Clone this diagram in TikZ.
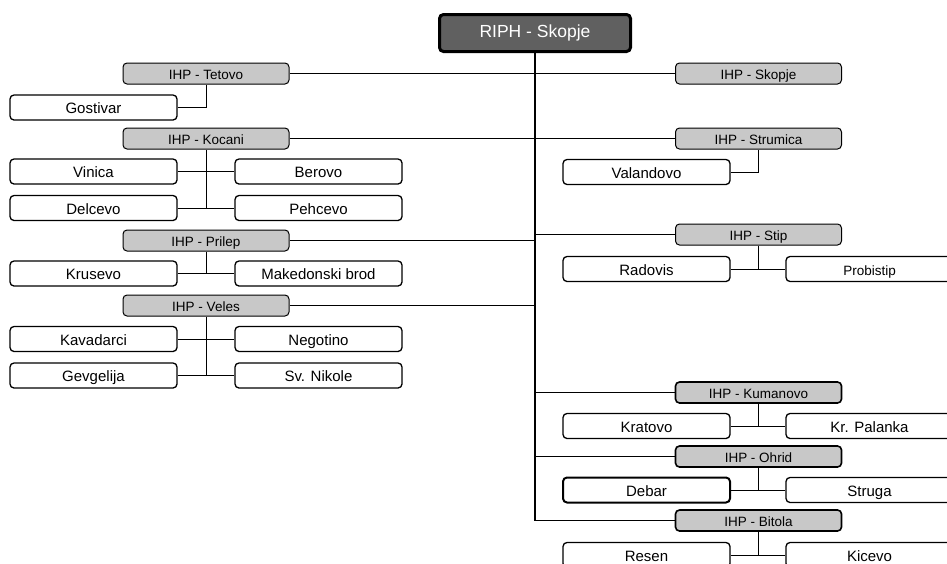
\documentclass[tikz,border=0pt]{standalone}
\usepackage{fontspec}
\setmainfont{Liberation Sans}
\usepackage{tikz}
\usepackage{xcolor}
\usetikzlibrary{positioning, calc}

\definecolor{boxgray}{HTML}{C8C8C8}
\definecolor{riphgray}{HTML}{606060}

\tikzset{
  riph/.style={draw, rounded corners=4pt, line width=3pt, fill=riphgray, text=white,
    minimum width=191pt, minimum height=37pt, inner sep=0pt,
    text height=8.5pt, text depth=0pt,
    font=\fontsize{17.5}{20}\selectfont},
  ihp/.style={draw, rounded corners=4pt, line width=1pt, fill=boxgray,
    minimum width=166pt, minimum height=21pt, inner sep=0pt,
    text height=11.7pt, text depth=0pt,
    font=\fontsize{13.5}{16}\selectfont},
  ihpbold/.style={ihp, line width=1.6pt},
  town/.style={draw, rounded corners=4pt, line width=1.3pt, fill=white,
    minimum width=167pt, minimum height=25pt, inner sep=0pt,
    text height=12.8pt, text depth=0pt,
    font=\fontsize{15}{18}\selectfont},
  link/.style={line width=1pt},
  trunk/.style={line width=1.8pt}
}

\begin{document}
\begin{tikzpicture}[x=1pt, y=-1pt]
        \useasboundingbox (0,0) rectangle (947,563);
        \clip (0,0) rectangle (947,563);
        \node[riph] (riph) at (535,33) {RIPH - Skopje};

        \node[ihp] (tetovo) at (206,73.5) {IHP - Tetovo};
        \node[town] (gostivar) at (93.5,107.5) {Gostivar};
        \node[ihp] (kocani) at (206,138.5) {IHP - Kocani};
        \node[town] (vinica) at (93.5,171.5) {Vinica};
        \node[town] (berovo) at (318.5,171.5) {Berovo};
        \node[town] (delcevo) at (93.5,208) {Delcevo};
        \node[town] (pehcevo) at (318.5,208) {Pehcevo};
        \node[ihp] (prilep) at (206,240.5) {IHP - Prilep};
        \node[town] (krusevo) at (93.5,273.5) {Krusevo};
        \node[town] (makbrod) at (318.5,273.5) {Makedonski brod};
        \node[ihp] (veles) at (206,305.5) {IHP - Veles};
        \node[town] (kavadarci) at (93.5,339) {Kavadarci};
        \node[town] (negotino) at (318.5,339) {Negotino};
        \node[town] (gevgelija) at (93.5,375.5) {Gevgelija};
        \node[town] (svnikole) at (318.5,375.5) {Sv. Nikole};

        \node[ihp] (skopje) at (758.5,73.5) {IHP - Skopje};
        \node[ihp] (strumica) at (758.5,138.5) {IHP - Strumica};
        \node[town] (valandovo) at (646.5,172) {Valandovo};
        \node[ihp] (stip) at (758.5,234.5) {IHP - Stip};
        \node[town] (radovis) at (646.5,269) {Radovis};
        \node[town, font=\fontsize{13.5}{16}\selectfont] (probistip) at (869.5,269) {Probistip};
        \node[ihpbold] (kumanovo) at (758.5,392.5) {IHP - Kumanovo};
        \node[town] (kratovo) at (646.5,426) {Kratovo};
        \node[town] (palanka) at (869.5,426) {Kr. Palanka};
        \node[ihpbold] (ohrid) at (758.5,456.5) {IHP - Ohrid};
        \node[town, line width=2pt] (debar) at (646.5,490) {Debar};
        \node[town] (struga) at (869.5,490) {Struga};
        \node[ihpbold] (bitola) at (758.5,520.5) {IHP - Bitola};
        \node[town] (resen) at (646.5,555) {Resen};
        \node[town] (kicevo) at (869.5,555) {Kicevo};

        \draw[trunk] (riph.south) -- (riph.south |- bitola.west);
        \foreach \a in {tetovo, kocani, prilep, veles}
            \draw[link] (\a.east) -- (riph.south |- \a.east);
        \foreach \a in {skopje, strumica, stip, kumanovo, ohrid, bitola}
            \draw[link] (\a.west) -- (riph.south |- \a.west);

        \draw[link] (gostivar.east) -| (tetovo.south);
        \draw[link] (kocani.south) -- (kocani.south |- delcevo.east);
        \draw[link] (vinica.east) -- (berovo.west);
        \draw[link] (delcevo.east) -- (pehcevo.west);
        \draw[link] (prilep.south) -- (prilep.south |- krusevo.east);
        \draw[link] (krusevo.east) -- (makbrod.west);
        \draw[link] (veles.south) -- (veles.south |- gevgelija.east);
        \draw[link] (kavadarci.east) -- (negotino.west);
        \draw[link] (gevgelija.east) -- (svnikole.west);

        \draw[link] (valandovo.east) -| (strumica.south);
        \draw[link] (stip.south) -- (stip.south |- radovis.east);
        \draw[link] (radovis.east) -- (probistip.west);
        \draw[link] (kumanovo.south) -- (kumanovo.south |- kratovo.east);
        \draw[link] (kratovo.east) -- (palanka.west);
        \draw[link] (ohrid.south) -- (ohrid.south |- debar.east);
        \draw[link] (debar.east) -- (struga.west);
        \draw[link] (bitola.south) -- (bitola.south |- resen.east);
        \draw[link] (resen.east) -- (kicevo.west);
    \end{tikzpicture}
\end{document}
